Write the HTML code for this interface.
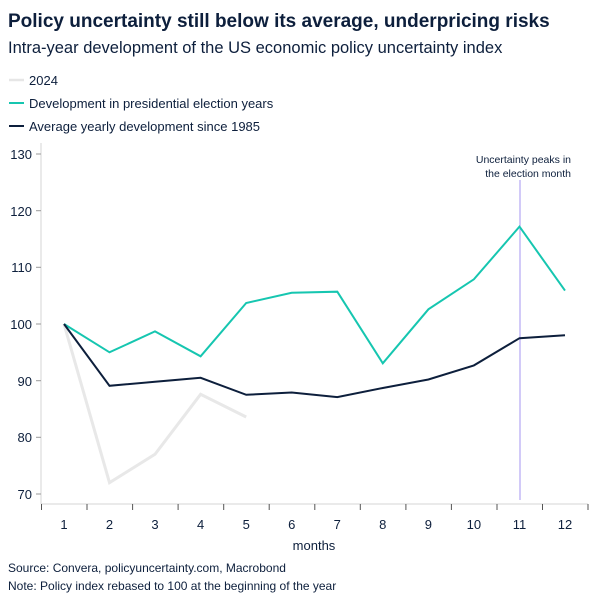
<!DOCTYPE html>
<html><head><meta charset="utf-8"><style>
body{margin:0;background:#fff;font-family:"Liberation Sans",sans-serif;}
</style></head><body>
<svg width="604" height="604" xmlns="http://www.w3.org/2000/svg" font-family="Liberation Sans, sans-serif">
<text x="8" y="27" font-size="19" font-weight="bold" fill="#0d1f3c">Policy uncertainty still below its average, underpricing risks</text>
<text x="8" y="53" font-size="16.5" fill="#0d1f3c">Intra-year development of the US economic policy uncertainty index</text>
<line x1="9" y1="80" x2="24" y2="80" stroke="#e6e6e6" stroke-width="2.5"/>
<text x="29" y="85" font-size="13" fill="#0d1f3c">2024</text>
<line x1="9" y1="103" x2="24" y2="103" stroke="#16c6b0" stroke-width="2"/>
<text x="29" y="108" font-size="13" fill="#0d1f3c">Development in presidential election years</text>
<line x1="9" y1="126" x2="24" y2="126" stroke="#0d1f3c" stroke-width="2"/>
<text x="29" y="131" font-size="13" fill="#0d1f3c">Average yearly development since 1985</text>
<line x1="41" y1="143" x2="41" y2="504" stroke="#d6d6d6"/>
<line x1="41" y1="504" x2="588" y2="504" stroke="#d6d6d6"/>
<g stroke="#999" stroke-width="1">
<line x1="36" y1="154" x2="41" y2="154"/><line x1="36" y1="210.7" x2="41" y2="210.7"/><line x1="36" y1="267.3" x2="41" y2="267.3"/><line x1="36" y1="324" x2="41" y2="324"/><line x1="36" y1="380.7" x2="41" y2="380.7"/><line x1="36" y1="437.3" x2="41" y2="437.3"/><line x1="36" y1="494" x2="41" y2="494"/>
</g>
<g font-size="13" fill="#0d1f3c" text-anchor="end">
<text x="32" y="159">130</text><text x="32" y="216">120</text><text x="32" y="272">110</text><text x="32" y="329">100</text><text x="32" y="386">90</text><text x="32" y="442">80</text><text x="32" y="499">70</text>
</g>
<g stroke="#555">
<line x1="41.5" y1="504" x2="41.5" y2="510"/><line x1="87" y1="504" x2="87" y2="510"/><line x1="132.6" y1="504" x2="132.6" y2="510"/><line x1="178.1" y1="504" x2="178.1" y2="510"/><line x1="223.7" y1="504" x2="223.7" y2="510"/><line x1="269.2" y1="504" x2="269.2" y2="510"/><line x1="314.8" y1="504" x2="314.8" y2="510"/><line x1="360.3" y1="504" x2="360.3" y2="510"/><line x1="405.9" y1="504" x2="405.9" y2="510"/><line x1="451.4" y1="504" x2="451.4" y2="510"/><line x1="497" y1="504" x2="497" y2="510"/><line x1="542.5" y1="504" x2="542.5" y2="510"/><line x1="588" y1="504" x2="588" y2="510"/>
</g>
<g font-size="13" fill="#0d1f3c" text-anchor="middle">
<text x="64" y="529">1</text><text x="109.5" y="529">2</text><text x="155" y="529">3</text><text x="200.6" y="529">4</text><text x="246.2" y="529">5</text><text x="291.7" y="529">6</text><text x="337.3" y="529">7</text><text x="382.8" y="529">8</text><text x="428.4" y="529">9</text><text x="473.9" y="529">10</text><text x="519.5" y="529">11</text><text x="565" y="529">12</text>
<text x="314" y="550">months</text>
</g>
<line x1="520" y1="180" x2="520" y2="500" stroke="#a596f2" stroke-width="1"/>
<text x="571" y="163" font-size="10.5" fill="#0d1f3c" text-anchor="end">Uncertainty peaks in</text>
<text x="571" y="177" font-size="10.5" fill="#0d1f3c" text-anchor="end">the election month</text>
<polyline fill="none" stroke="#e8e8e8" stroke-width="3" points="64,324 109.5,482.7 155,454.3 200.6,394.3 246.2,417"/>
<polyline fill="none" stroke="#16c6b0" stroke-width="2" points="64,324 109.5,352.3 155,331.4 200.6,356.3 246.2,303 291.7,292.8 337.3,291.7 382.8,363.3 428.4,309.3 473.9,279.3 519.5,226.6 565,290.6"/>
<polyline fill="none" stroke="#0d1f3c" stroke-width="2" points="64,324 109.5,385.8 155,381.8 200.6,377.8 246.2,394.8 291.7,392.5 337.3,397.1 382.8,388 428.4,379.5 473.9,365.4 519.5,338.2 565,335.3"/>
<text x="8" y="572" font-size="12" fill="#0d1f3c">Source: Convera, policyuncertainty.com, Macrobond</text>
<text x="8" y="590" font-size="12" fill="#0d1f3c">Note: Policy index rebased to 100 at the beginning of the year</text>
</svg>
</body></html>
